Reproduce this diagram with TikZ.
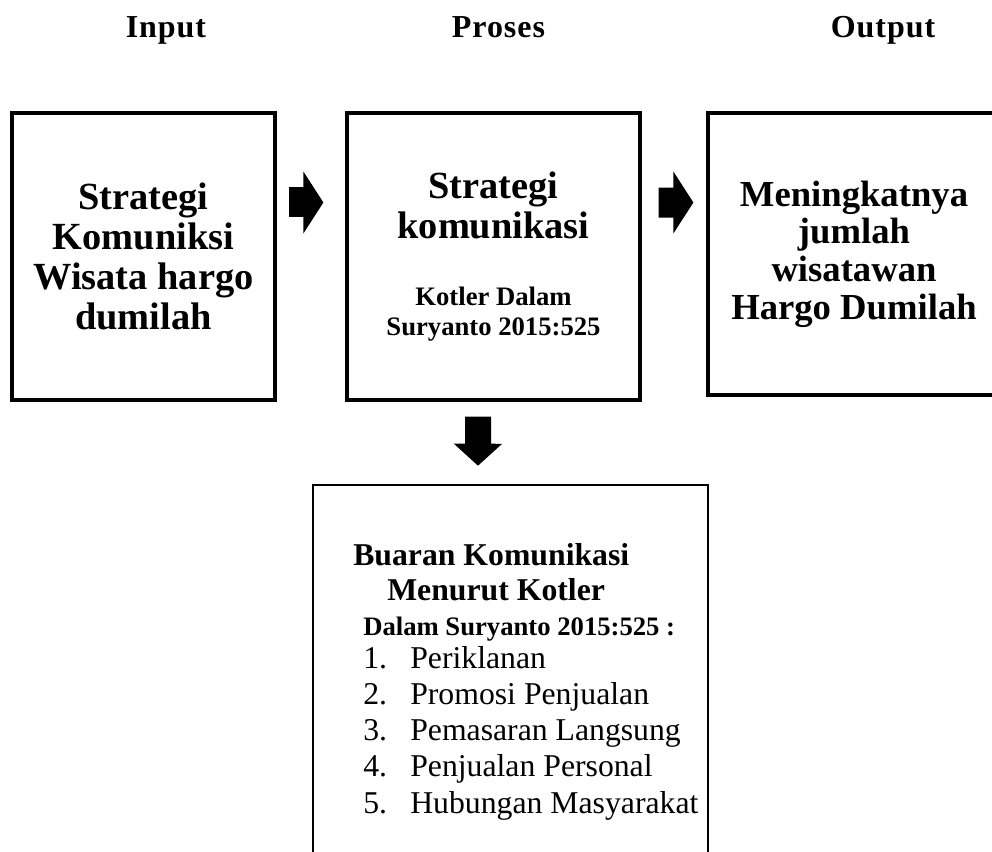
\documentclass[tikz,border=0pt]{standalone}
\usepackage{fontspec}
\setmainfont{Liberation Serif}
\newfontfamily\judulfont[LetterSpace=3]{Liberation Serif}
\usetikzlibrary{arrows.meta}

\tikzset{
  kotak/.style={draw, line width=2.4pt, align=center, inner sep=0pt,
    font=\fontsize{28.8}{30}\selectfont\bfseries},
  judul/.style={anchor=base, inner sep=0pt,
    font=\judulfont\fontsize{24}{28}\selectfont\bfseries},
  teks/.style={anchor=base west, inner sep=0pt},
  panah/.style={line width=22.5pt, -{Triangle[length=15pt,width=45.75pt]}}
}
\newcommand{\kecil}{\fontsize{20}{30}\selectfont}

\begin{document}
\begin{tikzpicture}[x=0.75pt,y=-0.75pt]
\useasboundingbox (0,0) rectangle (992,852);
% judul kolom
\node[judul] (jinput) at (166,38) {Input};
\node[judul] (jproses) at (498.5,38) {Proses};
\node[judul] (joutput) at (883,38) {Output};
% kotak utama
\node[kotak, minimum width=197.25pt, minimum height=215.25pt] (input) at (143.5,256.5)
  {Strategi\\Komuniksi\\Wisata hargo\\dumilah};
\node[kotak, minimum width=219.75pt, minimum height=215.25pt] (proses) at (493.5,256.5)
  {Strategi\\komunikasi\\[20pt]\kecil Kotler Dalam\\[-7.5pt]\kecil Suryanto 2015:525};
\node[kotak, minimum width=219pt, minimum height=211.5pt, font=\fontsize{27.5}{28.2}\selectfont\bfseries]
  (output) at (854,254) {Meningkatnya\\jumlah\\wisatawan\\Hargo Dumilah};
% kotak bauran
\node[draw, line width=1.9pt, minimum width=296.25pt, minimum height=311.25pt] (bauran) at (510.5,692.5) {};
\node[teks, font=\fontsize{23.8}{26}\selectfont\bfseries] (bkomunikasi) at (353,565) {Buaran Komunikasi};
\node[teks, font=\fontsize{23.8}{26}\selectfont\bfseries] (bmenurut) at (387,600) {Menurut Kotler};
\node[teks, font=\fontsize{20}{23}\selectfont\bfseries] (bdalam) at (363,635) {Dalam Suryanto 2015:525 :};
\foreach \butir [count=\i] in {Periklanan, Promosi Penjualan, Pemasaran Langsung, Penjualan Personal, Hubungan Masyarakat}{
  \node[teks, font=\fontsize{23.8}{27}\selectfont] (no\i) at (363,{668+36.3*(\i-1)}) {\i.};
  \node[teks, font=\fontsize{23.8}{27}\selectfont] (butir\i) at (410,{668+36.3*(\i-1)}) {\butir};
}
% panah
\draw[panah, shorten <=9pt, shorten >=16.5pt] ([yshift=40.5pt]input.east) -- ([yshift=40.5pt]proses.west);
\draw[panah, shorten <=12.75pt, shorten >=9.75pt] ([yshift=40.5pt]proses.east) -- ([yshift=38.6pt]output.west);
\draw[panah, line width=19.5pt, -{Triangle[length=16.5pt,width=35.25pt]}, shorten <=11.25pt, shorten >=13.5pt]
  ([xshift=-11.6pt]proses.south) -- ([xshift=-24.4pt]bauran.north);
\end{tikzpicture}
\end{document}
